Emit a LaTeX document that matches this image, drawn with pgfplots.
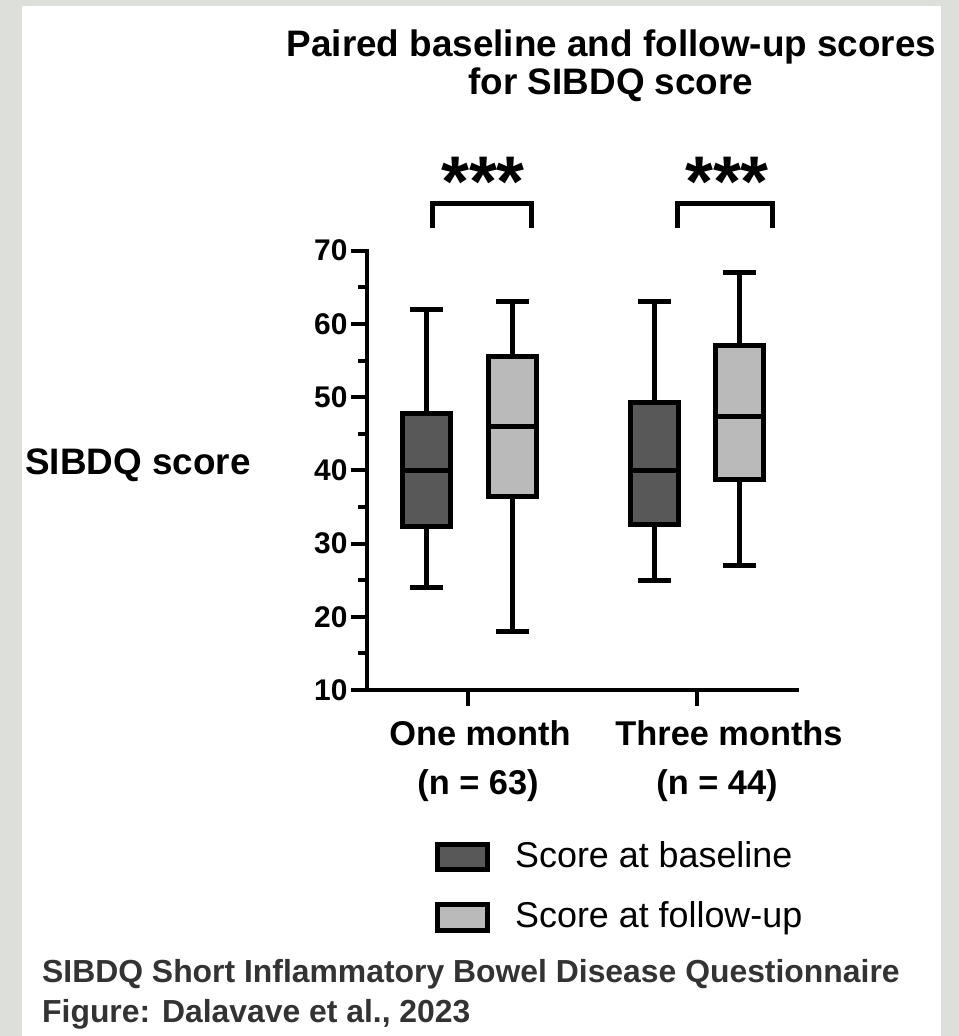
\documentclass[border=0pt]{standalone}
\usepackage{pgfplots}
\pgfplotsset{compat=1.18}
\usepackage{fontspec}
\setmainfont{Liberation Sans}
\definecolor{bgc}{HTML}{DDE0DA}
\definecolor{darkbox}{HTML}{585858}
\definecolor{lightbox}{HTML}{BABABA}
\definecolor{foot}{HTML}{333333}
\begin{document}
\begin{tikzpicture}[x=1bp,y=1bp]
\path[use as bounding box, fill=bgc] (0,0) rectangle (959,1036);
\fill[white] (22,0) rectangle (941,1030);
\begin{axis}[
  at={(367bp,346bp)}, anchor=south west,
  scale only axis, width=430bp, height=439.3bp,
  xmin=0.557, xmax=2.439, ymin=10, ymax=70,
  axis x line*=bottom, axis y line*=left,
  axis line style={-, line width=4bp, line cap=rect},
  xtick={1,2}, xticklabels={},
  ytick={10,20,...,70}, minor ytick={15,25,...,65},
  tick align=outside,
  major tick length=16bp, minor tick length=9bp,
  tick style={black, line width=4bp},
  yticklabel style={font=\fontsize{30}{30}\selectfont\bfseries},
  /pgf/number format/assume math mode=true,
  clip=false, unbounded coords=jump,
  cycle list={{black,solid,mark=none}},
  wsk/.style={black, solid, mark=none, line width=5bp},
  bx/.style={draw=black, solid, mark=none, line width=5bp, fill=#1},
]
% ---- One month, baseline: whiskers 24/62, quartiles 32.3/47.8, median 40
\addplot[wsk] coordinates {(0.818,47.8) (0.818,62) (nan,nan) (0.746,62) (0.890,62)
                      (nan,nan) (0.818,32.3) (0.818,24) (nan,nan) (0.746,24) (0.890,24)};
\addplot[bx=darkbox] coordinates {(0.713,32.3) (0.923,32.3) (0.923,47.8) (0.713,47.8)} -- cycle;
\addplot[wsk] coordinates {(0.713,40) (0.923,40)};
% ---- One month, follow-up: whiskers 18/63, quartiles 36.4/55.6, median 46
\addplot[wsk] coordinates {(1.193,55.6) (1.193,63) (nan,nan) (1.121,63) (1.265,63)
                      (nan,nan) (1.193,36.4) (1.193,18) (nan,nan) (1.121,18) (1.265,18)};
\addplot[bx=lightbox] coordinates {(1.088,36.4) (1.298,36.4) (1.298,55.6) (1.088,55.6)} -- cycle;
\addplot[wsk] coordinates {(1.088,46) (1.298,46)};
% ---- Three months, baseline: whiskers 25/63, quartiles 32.6/49.2, median 40
\addplot[wsk] coordinates {(1.817,49.2) (1.817,63) (nan,nan) (1.745,63) (1.889,63)
                      (nan,nan) (1.817,32.6) (1.817,25) (nan,nan) (1.745,25) (1.889,25)};
\addplot[bx=darkbox] coordinates {(1.712,32.6) (1.922,32.6) (1.922,49.2) (1.712,49.2)} -- cycle;
\addplot[wsk] coordinates {(1.712,40) (1.922,40)};
% ---- Three months, follow-up: whiskers 27/67, quartiles 38.7/57.1, median 47.4
\addplot[wsk] coordinates {(2.189,57.1) (2.189,67) (nan,nan) (2.117,67) (2.261,67)
                      (nan,nan) (2.189,38.7) (2.189,27) (nan,nan) (2.117,27) (2.261,27)};
\addplot[bx=lightbox] coordinates {(2.084,38.7) (2.294,38.7) (2.294,57.1) (2.084,57.1)} -- cycle;
\addplot[wsk] coordinates {(2.084,47.4) (2.294,47.4)};
% significance brackets
\draw[line width=5bp] (axis cs:0.845,73.1) -- (axis cs:0.845,76.5) -- (axis cs:1.275,76.5) -- (axis cs:1.275,73.1);
\draw[line width=5bp] (axis cs:1.914,73.1) -- (axis cs:1.914,76.5) -- (axis cs:2.333,76.5) -- (axis cs:2.333,73.1);
\end{axis}
% stars
\node[anchor=base, inner sep=0, font=\fontsize{72}{72}\selectfont\bfseries] at (483,829) {***};
\node[anchor=base, inner sep=0, font=\fontsize{72}{72}\selectfont\bfseries] at (727,829) {***};
% title
\node[anchor=base, inner sep=0, font=\fontsize{37}{37}\selectfont\bfseries] at (611.5,979) {Paired baseline and follow-up scores};
\node[anchor=base, inner sep=0, font=\fontsize{37}{37}\selectfont\bfseries] at (611,941) {for SIBDQ score};
% y label
\node[anchor=base west, inner sep=0, font=\fontsize{37}{37}\selectfont\bfseries] at (25,561) {SIBDQ score};
% x labels
\node[anchor=base, inner sep=0, font=\fontsize{34.5}{34.5}\selectfont\bfseries] at (480,290) {One month};
\node[anchor=base, inner sep=0, font=\fontsize{34.5}{34.5}\selectfont\bfseries] at (478,241) {(n = 63)};
\node[anchor=base, inner sep=0, font=\fontsize{34.5}{34.5}\selectfont\bfseries] at (729,290) {Three months};
\node[anchor=base, inner sep=0, font=\fontsize{34.5}{34.5}\selectfont\bfseries] at (717,241) {(n = 44)};
% legend
\draw[line width=5bp, fill=darkbox] (437.5,166.5) rectangle (487.5,191.5);
\draw[line width=5bp, fill=lightbox] (437.5,105.5) rectangle (487.5,131.5);
\node[anchor=base west, inner sep=0, font=\fontsize{36}{36}\selectfont] at (515,168) {Score at baseline};
\node[anchor=base west, inner sep=0, font=\fontsize{36}{36}\selectfont] at (515,108) {Score at follow-up};
% footer
\node[anchor=base west, inner sep=0, text=foot, font=\fontsize{32}{32}\selectfont\bfseries] at (42,53) {SIBDQ Short Inflammatory Bowel Disease Questionnaire};
\node[anchor=base west, inner sep=0, text=foot, font=\fontsize{32}{32}\selectfont\bfseries] at (42,13) {Figure: Dalavave et al., 2023};
\end{tikzpicture}
\end{document}
